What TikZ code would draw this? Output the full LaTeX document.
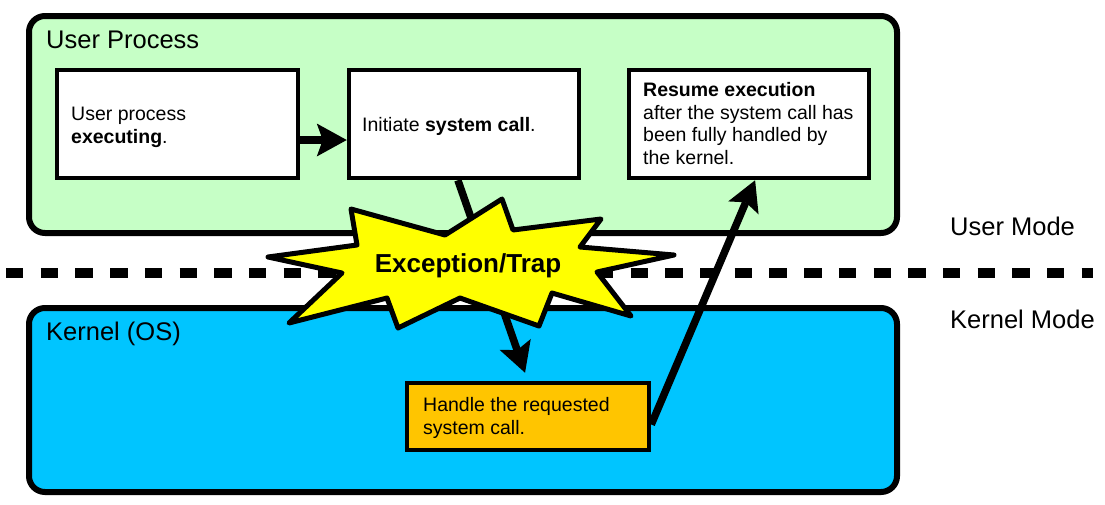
\documentclass[tikz,border=0pt]{standalone}
\usepackage{fontspec}
\setmainfont{Liberation Sans}
\usetikzlibrary{arrows.meta,calc}
\definecolor{userGreen}{RGB}{198,255,198}
\definecolor{kernelBlue}{RGB}{0,197,255}
\definecolor{handleOrange}{RGB}{255,197,0}
\definecolor{trapYellow}{RGB}{255,255,0}
\begin{document}
\begin{tikzpicture}[x=1pt,y=-1pt,
  region/.style={draw=black, line width=6pt, rounded corners=16pt, minimum width=868pt, inner sep=0pt},
  stepbox/.style={draw=black, line width=4.5pt, fill=white, inner sep=0pt, minimum height=108pt},
  txt/.style={font=\fontsize{19.5}{22.4}\selectfont, align=left, inner sep=0pt, anchor=base west},
  titletxt/.style={font=\fontsize{25.5}{30}\selectfont, inner sep=0pt, anchor=base west},
  bigarrow/.style={line width=7.5pt, -{Stealth[length=30pt,width=33pt,inset=6pt,line width=0pt]}}
]
\useasboundingbox (0,0) rectangle (1105,504);

% regions
\node[region, fill=userGreen, minimum height=217pt] (user) at (463,124.5) {};
\node[region, fill=kernelBlue, minimum height=184pt] (kernel) at (463,400) {};

% boxes
\node[stepbox, minimum width=241pt] (b1) at (177.5,124) {};
\node[stepbox, minimum width=230pt] (b2) at (464,124) {};
\node[stepbox, minimum width=240pt] (b3) at (749,124) {};
\node[draw=black, line width=4.5pt, fill=handleOrange, inner sep=0pt,
      minimum width=242pt, minimum height=67pt] (hb) at (528,416.5) {};

% mode separator
\coordinate (ml) at (6,273);
\coordinate (mr) at (1093,273);
\draw[line width=10pt, dash pattern=on 17.4pt off 17.3pt] (ml) -- (mr);

% arrows
\draw[bigarrow] ([yshift=-16pt]b1.east) -- ([yshift=-16pt]b2.west);
\draw[bigarrow] ($(b2.south west)!0.474!(b2.south east)$) -- ($(hb.north west)!0.488!(hb.north east)+(0,-8)$);
\draw[bigarrow] ($(hb.east)+(0,8)$) -- ($(b3.south west)!0.525!(b3.south east)$);

% exception star
\draw[fill=trapYellow, line width=5pt, line join=round]
  (351,209) -- (445,235) -- (502,199) -- (513,230) -- (601,219) -- (580,247)
  -- (674,255) -- (597,272) -- (631,316) -- (552,293) -- (539,326) -- (460,298)
  -- (398,328) -- (387,298) -- (289,323) -- (342,273) -- (268,257) -- (357,245) -- cycle;
\node[font=\bfseries\fontsize{26}{30}\selectfont, inner sep=0pt, anchor=base] (trap) at (468,272) {Exception/Trap};

% texts
\node[titletxt] (usertitle) at (46,48) {User Process};
\node[titletxt] (kerneltitle) at (46,340) {Kernel (OS)};
\node[titletxt] (usermode) at (950,235) {User Mode};
\node[titletxt] (kernelmode) at (950,328) {Kernel Mode};

% multi-line nodes: base anchor is the last line's baseline
\node[txt] (t1) at (71,143) {User process\\\textbf{executing}.};
\node[txt] (t2) at (362,131) {Initiate \textbf{system call}.};
\node[txt] (t3) at (643,164) {\textbf{Resume execution}\\after the system call has\\been fully handled by\\the kernel.};
\node[txt] (t4) at (423,434) {Handle the requested\\system call.};
\end{tikzpicture}
\end{document}
